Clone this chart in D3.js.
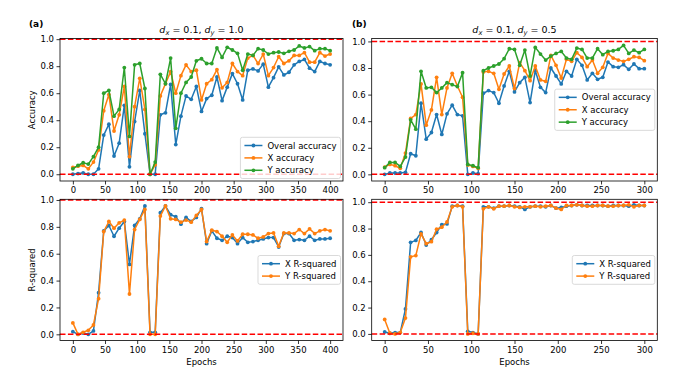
<!DOCTYPE html>
<html>
<head>
<meta charset="utf-8">
<script src="https://cdn.jsdelivr.net/npm/d3@7"></script>
<style>
  body { margin: 0; background: #fff; }
  svg { font-family: "DejaVu Sans", sans-serif; }
</style>
</head>
<body>
<svg id="chart" width="692" height="389"></svg>
<script>
// epochs
const epochsA = d3.range(0, 401, 8)
const epochsB = d3.range(0, 301, 6)

// (a) d_x = 0.1, d_y = 1.0
const overallA = [0.00,0.005,0.01,0.00,0.00,0.04,0.29,0.37,0.135,0.23,0.51,0.055,0.39,0.62,0.30,0.00,0.00,0.44,0.455,0.665,0.22,0.43,0.58,0.555,0.65,0.465,0.56,0.585,0.72,0.545,0.645,0.745,0.67,0.55,0.77,0.78,0.765,0.815,0.645,0.715,0.795,0.735,0.755,0.81,0.835,0.85,0.785,0.76,0.835,0.82,0.81]
const xAccA = [0.05,0.06,0.065,0.04,0.09,0.18,0.47,0.59,0.32,0.44,0.65,0.13,0.50,0.71,0.48,0.00,0.07,0.58,0.67,0.76,0.60,0.73,0.81,0.76,0.77,0.55,0.67,0.70,0.775,0.64,0.68,0.82,0.76,0.73,0.86,0.88,0.82,0.89,0.73,0.79,0.87,0.82,0.84,0.88,0.88,0.90,0.83,0.83,0.90,0.875,0.89]
const yAccA = [0.04,0.065,0.085,0.075,0.13,0.20,0.60,0.62,0.43,0.48,0.79,0.28,0.81,0.82,0.635,0.00,0.09,0.74,0.67,0.86,0.34,0.60,0.68,0.72,0.84,0.855,0.82,0.82,0.935,0.865,0.94,0.92,0.895,0.77,0.89,0.88,0.93,0.92,0.89,0.90,0.905,0.895,0.91,0.92,0.95,0.935,0.945,0.915,0.93,0.93,0.915]
const xR2A = [0.02,0.00,0.01,0.00,0.025,0.31,0.77,0.81,0.73,0.79,0.84,0.52,0.81,0.86,0.955,0.015,0.015,0.905,0.955,0.89,0.875,0.82,0.87,0.84,0.87,0.935,0.675,0.77,0.715,0.70,0.73,0.72,0.675,0.72,0.685,0.69,0.70,0.71,0.72,0.72,0.65,0.75,0.75,0.70,0.705,0.70,0.73,0.70,0.71,0.71,0.715]
const yR2A = [0.085,0.00,0.015,0.03,0.07,0.265,0.765,0.84,0.79,0.83,0.85,0.30,0.78,0.855,0.93,0.00,0.00,0.88,0.955,0.86,0.855,0.835,0.85,0.835,0.885,0.93,0.69,0.775,0.765,0.73,0.685,0.74,0.695,0.745,0.745,0.74,0.715,0.725,0.75,0.755,0.655,0.755,0.755,0.75,0.78,0.75,0.785,0.75,0.77,0.78,0.77]

// (b) d_x = 0.1, d_y = 0.5
const overallB = [0.00,0.01,0.01,0.01,0.015,0.155,0.14,0.535,0.265,0.315,0.45,0.30,0.455,0.52,0.45,0.44,0.00,0.01,0.005,0.61,0.63,0.615,0.535,0.665,0.775,0.62,0.69,0.73,0.54,0.78,0.655,0.615,0.80,0.74,0.68,0.775,0.74,0.865,0.82,0.71,0.76,0.715,0.73,0.845,0.81,0.805,0.825,0.79,0.83,0.795,0.795]
const xAccB = [0.055,0.075,0.065,0.045,0.16,0.42,0.45,0.68,0.37,0.485,0.73,0.45,0.65,0.76,0.665,0.58,0.07,0.06,0.045,0.77,0.775,0.76,0.64,0.755,0.815,0.645,0.84,0.78,0.705,0.815,0.71,0.70,0.895,0.82,0.725,0.865,0.85,0.915,0.88,0.81,0.86,0.76,0.805,0.91,0.875,0.86,0.85,0.865,0.885,0.88,0.855]
const yAccB = [0.05,0.09,0.09,0.06,0.13,0.41,0.34,0.775,0.65,0.655,0.615,0.65,0.69,0.675,0.66,0.765,0.075,0.065,0.05,0.78,0.80,0.815,0.83,0.87,0.945,0.94,0.82,0.935,0.74,0.955,0.905,0.86,0.89,0.91,0.925,0.875,0.865,0.95,0.94,0.875,0.875,0.945,0.90,0.925,0.93,0.94,0.97,0.91,0.935,0.915,0.94]
const xR2B = [0.015,0.005,0.01,0.01,0.19,0.695,0.71,0.77,0.675,0.715,0.77,0.83,0.835,0.97,0.975,0.97,0.02,0.01,0.00,0.965,0.965,0.955,0.97,0.97,0.975,0.97,0.965,0.945,0.965,0.97,0.97,0.965,0.975,0.955,0.96,0.97,0.975,0.98,0.975,0.975,0.975,0.975,0.975,0.97,0.975,0.975,0.975,0.97,0.98,0.975,0.975]
const yR2B = [0.11,0.005,0.00,0.01,0.12,0.585,0.595,0.76,0.685,0.70,0.795,0.81,0.85,0.965,0.975,0.965,0.00,0.005,0.00,0.95,0.965,0.95,0.97,0.97,0.975,0.965,0.96,0.965,0.965,0.97,0.965,0.97,0.975,0.955,0.945,0.975,0.975,0.98,0.975,0.97,0.97,0.975,0.975,0.97,0.97,0.975,0.975,0.98,0.965,0.975,0.975]

const yTicks = [0, 0.2, 0.4, 0.6, 0.8, 1.0]
const accNames = ["Overal accuracy", "X accuracy", "Y accuracy"]
const r2Names = ["X R-squared", "Y R-squared"]
const colors = ["#1f77b4", "#ff7f0e", "#2ca02c"]

const svg = d3.select("#chart")
const fs = 8.5

function panel(cfg) {
  let x = d3.scaleLinear().domain(cfg.xlim).range([cfg.left, cfg.right])
  let y = d3.scaleLinear().domain(cfg.ylim).range([cfg.bottom, cfg.top])
  let g = svg.append("g")

  // data lines
  cfg.series.forEach((vals, i) => {
    let pts = vals.map((v, j) => [cfg.epochs[j], v])
    g.append("path")
      .attr("d", d3.line().x(d => x(d[0])).y(d => y(d[1]))(pts))
      .attr("fill", "none")
      .attr("stroke", colors[i])
      .attr("stroke-width", 1.5)
      .attr("stroke-linejoin", "round")
    g.selectAll(null).data(pts).enter().append("circle")
      .attr("cx", d => x(d[0])).attr("cy", d => y(d[1]))
      .attr("r", 1.9).attr("fill", colors[i])
  })

  // reference lines at 0 and 1
  ;[0, 1].forEach(v => {
    g.append("line")
      .attr("x1", cfg.left).attr("x2", cfg.right)
      .attr("y1", y(v)).attr("y2", y(v))
      .attr("stroke", "red").attr("stroke-width", 1.5)
      .attr("stroke-dasharray", "5.5,2.4")
  })

  // frame
  g.append("rect")
    .attr("x", cfg.left).attr("y", cfg.top)
    .attr("width", cfg.right - cfg.left).attr("height", cfg.bottom - cfg.top)
    .attr("fill", "none").attr("stroke", "#000").attr("stroke-width", 0.8)

  // axes
  let xa = g.append("g").attr("transform", `translate(0,${cfg.bottom})`)
    .call(d3.axisBottom(x).tickValues(cfg.xticks).tickSize(3.5).tickPadding(2.5).tickFormat(d3.format("d")))
  let ya = g.append("g").attr("transform", `translate(${cfg.left},0)`)
    .call(d3.axisLeft(y).tickValues(yTicks).tickSize(3.5).tickPadding(2.5).tickFormat(d3.format(".1f")))
  ;[xa, ya].forEach(a => {
    a.select(".domain").remove()
    a.selectAll("line").attr("stroke-width", 0.8)
    a.selectAll("text").attr("font-size", fs).attr("font-family", "DejaVu Sans").attr("fill", "#000")
  })

  if (cfg.ylabel) {
    g.append("text")
      .attr("transform", `translate(${cfg.left - 25},${(cfg.top + cfg.bottom) / 2}) rotate(-90)`)
      .attr("text-anchor", "middle").attr("font-size", fs).text(cfg.ylabel)
  }
  if (cfg.xlabel) {
    g.append("text")
      .attr("x", (cfg.left + cfg.right) / 2).attr("y", cfg.bottom + 24)
      .attr("text-anchor", "middle").attr("font-size", fs).text(cfg.xlabel)
  }
  if (cfg.title) {
    let t = g.append("text")
      .attr("x", (cfg.left + cfg.right) / 2).attr("y", cfg.top - 6)
      .attr("text-anchor", "middle").attr("font-size", 9.5)
    t.append("tspan").attr("font-style", "italic").text("d")
    t.append("tspan").attr("font-style", "italic").attr("font-size", 6.7).attr("dy", 2).text("x")
    t.append("tspan").attr("dy", -2).text(" = 0.1, ")
    t.append("tspan").attr("font-style", "italic").text("d")
    t.append("tspan").attr("font-style", "italic").attr("font-size", 6.7).attr("dy", 2).text("y")
    t.append("tspan").attr("dy", -2).text(" = " + cfg.title)
  }
  if (cfg.tag) {
    g.append("text").attr("x", cfg.tagX).attr("y", 27)
      .attr("font-size", 9).attr("font-weight", "bold").text(cfg.tag)
  }

  // legend
  let rowH = 12.4
  let lg = g.append("g")
  let texts = cfg.names.map((n, i) =>
    lg.append("text").attr("font-size", fs).attr("x", 0).attr("y", 0).text(n))
  let tw = d3.max(texts, t => t.node().getComputedTextLength())
  let bw = 27 + tw + 4, bh = rowH * cfg.names.length + 4
  let bx = cfg.right - 2.5 - bw
  let by = cfg.legendLoc === "lower right" ? cfg.bottom - 2.5 - bh : (cfg.top + cfg.bottom) / 2 - bh / 2
  lg.insert("rect", "text")
    .attr("x", bx).attr("y", by).attr("width", bw).attr("height", bh).attr("rx", 2)
    .attr("fill", "#fff").attr("fill-opacity", 0.8).attr("stroke", "#d0d0d0").attr("stroke-width", 0.8)
  cfg.names.forEach((n, i) => {
    let cy = by + 2 + rowH * i + rowH / 2
    lg.append("line").attr("x1", bx + 4).attr("x2", bx + 22).attr("y1", cy).attr("y2", cy)
      .attr("stroke", colors[i]).attr("stroke-width", 1.5)
    lg.append("circle").attr("cx", bx + 13).attr("cy", cy).attr("r", 1.9).attr("fill", colors[i])
    texts[i].attr("x", bx + 27).attr("y", cy + 3)
  })
}

const colA = { left: 60, right: 343, xlim: [-20, 420], xticks: d3.range(0, 401, 50), epochs: epochsA }
const colB = { left: 371.7, right: 657.3, xlim: [-15, 315], xticks: d3.range(0, 301, 50), epochs: epochsB }

panel(Object.assign({}, colA, { top: 38.5, bottom: 181, ylim: [-0.05, 1.005],
  series: [overallA, xAccA, yAccA], names: accNames, legendLoc: "lower right",
  ylabel: "Accuracy", title: "1.0", tag: "(a)", tagX: 29 }))
panel(Object.assign({}, colB, { top: 38.5, bottom: 181, ylim: [-0.05, 1.022],
  series: [overallB, xAccB, yAccB], names: accNames, legendLoc: "center right",
  title: "0.5", tag: "(b)", tagX: 352 }))
panel(Object.assign({}, colA, { top: 199.3, bottom: 340.5, ylim: [-0.046, 1.005],
  series: [xR2A, yR2A], names: r2Names, legendLoc: "center right",
  ylabel: "R-squared", xlabel: "Epochs" }))
panel(Object.assign({}, colB, { top: 199.3, bottom: 340.5, ylim: [-0.05, 1.022],
  series: [xR2B, yR2B], names: r2Names, legendLoc: "center right",
  xlabel: "Epochs" }))
</script>
</body>
</html>
